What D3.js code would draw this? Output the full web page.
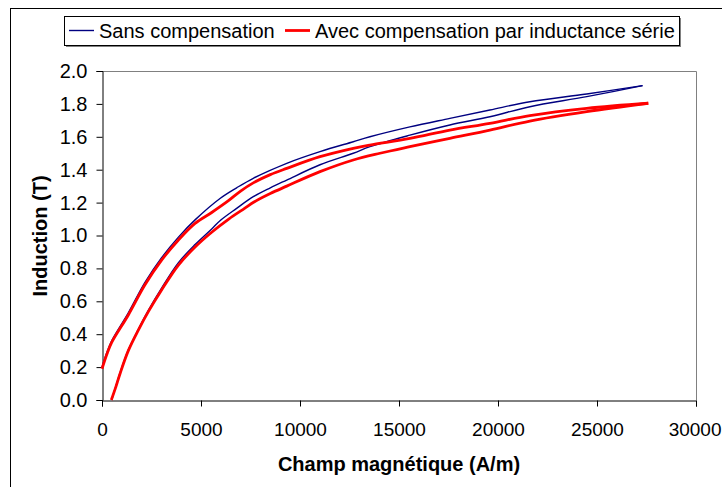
<!DOCTYPE html>
<html><head><meta charset="utf-8">
<script src="https://cdn.jsdelivr.net/npm/d3@7"></script>
<style>
html,body{margin:0;padding:0;background:#fff;}
svg{display:block;}
text{font-family:"Liberation Sans",Arial,sans-serif;fill:#000;}
</style></head>
<body>
<script>
// ---- data ----
const xTicks = [0, 5000, 10000, 15000, 20000, 25000, 30000];
const yTicks = [0, 0.2, 0.4, 0.6, 0.8, 1.0, 1.2, 1.4, 1.6, 1.8, 2.0];
const seriesNames = ["Sans compensation", "Avec compensation par inductance série"];
const xTitle = "Champ magnétique (A/m)";
const yTitle = "Induction (T)";

// Sans compensation (blue)
const blueLowerH = [490, 910, 1330, 1835, 2340, 3010, 3860, 4700, 5540, 5960, 6800, 7640, 8500, 9330, 11010, 12690, 13530, 15550, 17570, 19590, 21610, 24480, 27300];
const blueLowerB = [0, 0.165, 0.305, 0.43, 0.545, 0.68, 0.835, 0.945, 1.04, 1.09, 1.165, 1.236, 1.29, 1.337, 1.43, 1.50, 1.54, 1.61, 1.672, 1.722, 1.783, 1.844, 1.911];
const blueUpperH = [27300, 24480, 21610, 19590, 17570, 15550, 13530, 12690, 11010, 9330, 7640, 6800, 5960, 4700, 3860, 3010, 2170, 1330, 490, 250, 0];
const blueUpperB = [1.911, 1.86, 1.813, 1.763, 1.712, 1.66, 1.60, 1.57, 1.51, 1.439, 1.348, 1.29, 1.225, 1.095, 0.99, 0.865, 0.715, 0.53, 0.36, 0.29, 0.20];

// Avec compensation (red)
const redLowerH = [470, 700, 910, 1330, 1835, 2340, 3010, 3860, 4700, 5540, 6400, 7200, 7700, 8500, 9330, 11010, 12690, 14040, 15550, 17570, 19590, 21610, 24480, 27590];
const redLowerB = [0, 0.08, 0.16, 0.30, 0.425, 0.537, 0.669, 0.82, 0.93, 1.02, 1.10, 1.165, 1.205, 1.255, 1.30, 1.388, 1.459, 1.50, 1.54, 1.591, 1.641, 1.696, 1.753, 1.804];
const redUpperH = [27590, 24480, 21610, 19590, 17570, 15550, 13530, 12690, 11010, 9330, 8500, 7640, 7000, 6370, 5540, 4700, 3860, 3010, 2170, 1330, 490, 250, 0];
const redUpperB = [1.804, 1.773, 1.729, 1.682, 1.641, 1.59, 1.55, 1.53, 1.479, 1.408, 1.37, 1.32, 1.27, 1.21, 1.14, 1.074, 0.973, 0.85, 0.70, 0.517, 0.35, 0.28, 0.19];

const W = 722, H = 487;
const m = {left: 102, top: 71, right: 696, bottom: 400};

const svg = d3.select("body").append("svg").attr("width", W).attr("height", H);

// outer chart frame
svg.append("rect").attr("x", 10.5).attr("y", 8.5).attr("width", W + 20).attr("height", H + 20)
  .attr("fill", "#fff").attr("stroke", "#000").attr("stroke-width", 1);

const x = d3.scaleLinear().domain([0, 30000]).range([m.left, m.right]);
const y = d3.scaleLinear().domain([0, 2.0]).range([m.bottom, m.top]);

// plot area border (gray top/right)
svg.append("path")
  .attr("d", `M${m.left},${m.top + 0.5}H${m.right + 0.5}V${m.bottom}`)
  .attr("fill", "none").attr("stroke", "#808080").attr("stroke-width", 1);

const fs = 20;

// axes
const xAxis = svg.append("g").attr("transform", `translate(0,${m.bottom + 0.5})`)
  .call(d3.axisBottom(x).tickValues(xTicks).tickFormat(d3.format("d")).tickSizeOuter(0).tickSize(6).tickPadding(16));
const yAxis = svg.append("g").attr("transform", `translate(${m.left + 0.5},0)`)
  .call(d3.axisLeft(y).tickValues(yTicks).tickFormat(d3.format(".1f")).tickSizeOuter(0).tickSize(6).tickPadding(9));
[xAxis, yAxis].forEach(a => {
  a.selectAll("path.domain").attr("stroke", "#000");
  a.selectAll(".tick line").attr("stroke", "#000");
  a.selectAll("text").attr("font-size", fs).attr("font-family", '"Liberation Sans", Arial, sans-serif').attr("fill", "#000");
});
xAxis.selectAll("text").attr("font-size", 19);
// keep the last label inside the page
xAxis.selectAll(".tick").filter(d => d === 30000).select("text").attr("text-anchor", "end").attr("x", 25);

// curves
const line = d3.line().x(d => x(d[0])).y(d => y(d[1])).curve(d3.curveCatmullRom.alpha(0.5));
const zip = (a, b) => a.map((v, i) => [v, b[i]]);
const plot = svg.append("g");
function drawLoop(lh, lb, uh, ub, color, w) {
  plot.append("path").attr("d", line(zip(lh, lb))).attr("fill", "none").attr("stroke", color).attr("stroke-width", w).attr("stroke-linejoin", "round");
  plot.append("path").attr("d", line(zip(uh, ub))).attr("fill", "none").attr("stroke", color).attr("stroke-width", w).attr("stroke-linejoin", "round");
}
drawLoop(blueLowerH, blueLowerB, blueUpperH, blueUpperB, "#000080", 1.4);
drawLoop(redLowerH, redLowerB, redUpperH, redUpperB, "#ff0000", 2.8);

// axis titles
svg.append("text").attr("x", (m.left + m.right) / 2).attr("y", 471)
  .attr("text-anchor", "middle").attr("font-weight", "bold").attr("font-size", fs).text(xTitle);
svg.append("text").attr("transform", `translate(47,236) rotate(-90)`)
  .attr("text-anchor", "middle").attr("font-weight", "bold").attr("font-size", fs).text(yTitle);

// legend
const lg = svg.append("g");
lg.append("rect").attr("x", 66).attr("y", 18).attr("width", 615).attr("height", 29).attr("fill", "#808080");
lg.append("rect").attr("x", 64.5).attr("y", 16.5).attr("width", 615).attr("height", 29).attr("fill", "#fff").attr("stroke", "#000");
const colors = ["#000080", "#ff0000"];
const widths = [1.4, 2.8];
const lx = [69, 285];
seriesNames.forEach((n, i) => {
  lg.append("line").attr("x1", lx[i]).attr("x2", lx[i] + 25).attr("y1", 30.5).attr("y2", 30.5)
    .attr("stroke", colors[i]).attr("stroke-width", widths[i]);
  lg.append("text").attr("x", lx[i] + 30).attr("y", 37.5).attr("font-size", fs).text(n);
});
</script>
</body></html>
